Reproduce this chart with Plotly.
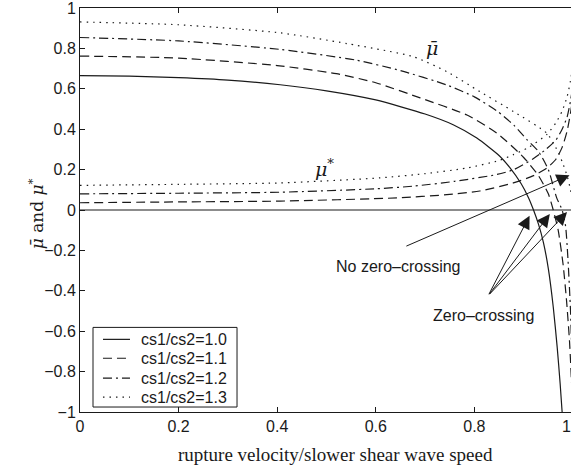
import plotly.graph_objects as go

# Friction-coefficient bounds versus normalised rupture velocity,
# one pair of curves (mu-bar above, mu* below) per shear-wave-speed ratio.
ratio_labels = ["cs1/cs2=1.0", "cs1/cs2=1.1", "cs1/cs2=1.2", "cs1/cs2=1.3"]

# cs1/cs2 = 1.0
mubar_x_10 = [0, 0.1, 0.2, 0.3, 0.406, 0.5, 0.6, 0.7, 0.757, 0.805, 0.85, 0.872, 0.895, 0.91, 0.92, 0.93, 0.94, 0.95, 0.96, 0.968, 0.974, 0.978]
mubar_y_10 = [0.665, 0.663, 0.655, 0.643, 0.62, 0.59, 0.545, 0.475, 0.422, 0.356, 0.27, 0.21, 0.13, 0.06, 0.0, -0.07, -0.16, -0.29, -0.48, -0.68, -0.86, -1.0]
mustar_x_10 = [0, 0.5, 1.0]
mustar_y_10 = [0, 0, 0]

# cs1/cs2 = 1.1
mubar_x_11 = [0, 0.2, 0.4, 0.52, 0.6, 0.69, 0.785, 0.846, 0.9, 0.93, 0.95, 0.96, 0.97, 0.98, 0.987, 0.993, 0.998, 1.0]
mubar_y_11 = [0.762, 0.752, 0.715, 0.675, 0.63, 0.555, 0.47, 0.38, 0.26, 0.17, 0.08, 0.0, -0.1, -0.27, -0.45, -0.65, -0.9, -1.0]
mustar_x_11 = [0, 0.2, 0.406, 0.643, 0.75, 0.811, 0.879, 0.92, 0.947, 0.965, 0.978, 0.988, 0.995, 1.0]
mustar_y_11 = [0.036, 0.04, 0.044, 0.06, 0.077, 0.094, 0.134, 0.17, 0.208, 0.25, 0.31, 0.39, 0.48, 0.56]

# cs1/cs2 = 1.2
mubar_x_12 = [0, 0.2, 0.406, 0.56, 0.65, 0.744, 0.8, 0.846, 0.88, 0.906, 0.93, 0.95, 0.967, 0.978, 0.985, 0.99, 0.995, 1.0]
mubar_y_12 = [0.854, 0.837, 0.795, 0.742, 0.69, 0.619, 0.56, 0.49, 0.42, 0.35, 0.29, 0.2, 0.06, 0.0, -0.08, -0.25, -0.5, -0.9]
mustar_x_12 = [0, 0.2, 0.406, 0.6, 0.676, 0.76, 0.846, 0.88, 0.92, 0.945, 0.965, 0.978, 0.988, 0.995, 1.0]
mustar_y_12 = [0.08, 0.083, 0.088, 0.105, 0.118, 0.142, 0.176, 0.2, 0.255, 0.3, 0.345, 0.4, 0.46, 0.54, 0.62]

# cs1/cs2 = 1.3
mubar_x_13 = [0, 0.2, 0.406, 0.541, 0.676, 0.744, 0.811, 0.879, 0.947, 0.965, 0.978, 0.988, 0.995, 1.0]
mubar_y_13 = [0.931, 0.917, 0.877, 0.824, 0.759, 0.685, 0.586, 0.488, 0.38, 0.31, 0.24, 0.17, 0.1, 0.03]
mustar_x_13 = [0, 0.2, 0.406, 0.608, 0.7, 0.785, 0.85, 0.879, 0.91, 0.947, 0.965, 0.978, 0.988, 0.995, 1.0]
mustar_y_13 = [0.122, 0.127, 0.134, 0.159, 0.18, 0.208, 0.245, 0.274, 0.31, 0.374, 0.43, 0.49, 0.56, 0.64, 0.72]

x_tick_vals = [0, 0.2, 0.4, 0.6, 0.8]
x_tick_text = ["0", "0.2", "0.4", "0.6", "0.8"]
y_tick_vals = [-1, -0.8, -0.6, -0.4, -0.2, 0, 0.2, 0.4, 0.6, 0.8, 1]
y_tick_text = ["\u22121", "\u22120.8", "\u22120.6", "\u22120.4", "\u22120.2", "0", "0.2", "0.4", "0.6", "0.8", "1"]

series = [
    (mubar_x_10, mubar_y_10, mustar_x_10, mustar_y_10),
    (mubar_x_11, mubar_y_11, mustar_x_11, mustar_y_11),
    (mubar_x_12, mubar_y_12, mustar_x_12, mustar_y_12),
    (mubar_x_13, mubar_y_13, mustar_x_13, mustar_y_13),
]
dashes = ["solid", "9px,5px", "9px,4px,2px,4px", "1.5px,5px"]
INK = "#1a1a1a"
SANS = "Liberation Sans, Arial, sans-serif"
SERIF = "Liberation Serif, Times New Roman, serif"
MATH = "DejaVu Serif, serif"

fig = go.Figure()
for (bx, by, sx, sy), dash, name in zip(series, dashes, ratio_labels):
    for xs, ys in ((bx, by), (sx, sy)):
        fig.add_trace(go.Scatter(
            x=xs, y=ys, mode="lines", name=name, showlegend=False,
            line=dict(color=INK, width=1.2, dash=dash, shape="spline", smoothing=0.6),
        ))

# Legend box drawn in paper coordinates
L = dict(x0=0.0265, x1=0.3198, y0=0.0123, y1=0.2094)
row_y = [0.1798, 0.133, 0.0837, 0.0369]
shapes = [dict(type="rect", xref="paper", yref="paper", line=dict(color=INK, width=1),
               fillcolor="white", layer="above", **L)]
annotations = []
for ry, dash, name in zip(row_y, dashes, ratio_labels):
    shapes.append(dict(type="line", xref="paper", yref="paper", x0=0.0468, x1=0.1018,
                       y0=ry, y1=ry, line=dict(color=INK, width=1.2, dash=dash), layer="above"))
    annotations.append(dict(xref="paper", yref="paper", x=0.1202, y=ry, xanchor="left",
                            yanchor="middle", text=name, showarrow=False,
                            font=dict(family=SANS, size=16, color=INK)))

# Curve-family labels
annotations.append(dict(x=0.714, y=0.80, text="<i>\u03bc\u0304</i>", showarrow=False,
                        font=dict(family=MATH, size=19, color=INK)))
annotations.append(dict(x=0.495, y=0.207, text="<i>\u03bc</i><sup>*</sup>", showarrow=False,
                        font=dict(family=MATH, size=19, color=INK)))

# Arrow callouts
arrow_style = dict(showarrow=True, arrowhead=2, arrowsize=2.6, arrowwidth=1,
                   arrowcolor=INK, axref="x", ayref="y", text="")
annotations.append(dict(x=0.993, y=0.172, ax=0.659, ay=-0.182, **arrow_style))
for tx, ty in ((0.912, -0.028), (0.953, -0.02), (0.988, -0.01)):
    annotations.append(dict(x=tx, y=ty, ax=0.828, ay=-0.424, **arrow_style))
annotations.append(dict(x=0.647, y=-0.281, text="No zero\u2013crossing", showarrow=False,
                        font=dict(family=SANS, size=16, color=INK)))
annotations.append(dict(x=0.818, y=-0.522, text="Zero\u2013crossing", showarrow=False,
                        font=dict(family=SANS, size=16, color=INK)))
# Tick label at the right end of the velocity axis
annotations.append(dict(xref="paper", yref="paper", x=1.004, y=0, yanchor="top", yshift=-4,
                        text="1", showarrow=False, font=dict(family=SANS, size=16, color=INK)))
# Axis titles
annotations.append(dict(xref="paper", yref="paper", x=0.521, y=-0.106, yanchor="middle",
                        text="rupture velocity/slower shear wave speed", showarrow=False,
                        font=dict(family=SERIF, size=19, color=INK)))
annotations.append(dict(xref="paper", yref="paper", x=-0.089, y=0.49, xanchor="center",
                        yanchor="middle", textangle=-90, showarrow=False,
                        text="<i>\u03bc\u0304</i> and <i>\u03bc</i><sup>*</sup>",
                        font=dict(family=MATH, size=17, color=INK)))

fig.update_layout(
    width=571, height=470,
    margin=dict(l=80, r=0, t=6, b=58),
    paper_bgcolor="white", plot_bgcolor="white",
    showlegend=False,
    shapes=shapes, annotations=annotations,
    xaxis=dict(range=[0, 0.996], tickvals=x_tick_vals, ticktext=x_tick_text,
               ticks="inside", ticklen=5, tickcolor=INK, showline=True, linecolor=INK,
               linewidth=1, mirror="ticks", showgrid=False, zeroline=False,
               tickfont=dict(family=SANS, size=16, color=INK)),
    yaxis=dict(range=[-1, 1], tickvals=y_tick_vals, ticktext=y_tick_text,
               ticks="inside", ticklen=5, tickcolor=INK, showline=True, linecolor=INK,
               linewidth=1, showgrid=False, zeroline=False, ticklabeloverflow="allow",
               tickfont=dict(family=SANS, size=16, color=INK)),
)
fig.write_html("out.html")
